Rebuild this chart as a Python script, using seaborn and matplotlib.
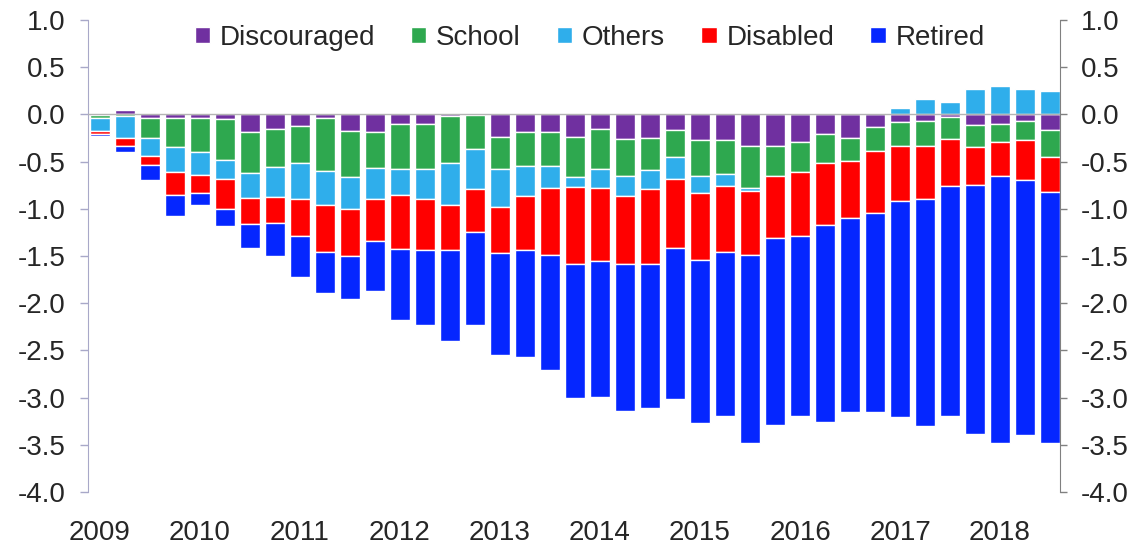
import numpy as np
import matplotlib.pyplot as plt
from matplotlib.patches import Patch
import seaborn as sns

# quarterly contributions, 2009Q1 .. 2018Q3
years = [str(y) for y in range(2009, 2019)]
quarters = [f"{y}Q{q}" for y in years for q in range(1, 5)][:39]

discouraged = [-0.01, 0.05, -0.035, -0.04, -0.04, -0.05, -0.19, -0.15, -0.12, -0.035,
               -0.18, -0.19, -0.10, -0.10, -0.02, -0.01, -0.24, -0.19, -0.19, -0.24,
               -0.15, -0.26, -0.245, -0.17, -0.27, -0.27, -0.33, -0.33, -0.29, -0.21,
               -0.25, -0.13, -0.08, -0.065, -0.025, -0.11, -0.10, -0.065, -0.16]
school = [-0.03, -0.02, -0.21, -0.31, -0.36, -0.43, -0.43, -0.41, -0.39, -0.56,
          -0.48, -0.38, -0.48, -0.48, -0.49, -0.36, -0.335, -0.36, -0.36, -0.42,
          -0.43, -0.39, -0.345, -0.28, -0.38, -0.36, -0.45, -0.32, -0.32, -0.31,
          -0.24, -0.26, -0.25, -0.265, -0.235, -0.24, -0.19, -0.205, -0.29]
others = [-0.14, -0.23, -0.20, -0.26, -0.24, -0.20, -0.27, -0.31, -0.39, -0.37,
          -0.34, -0.33, -0.27, -0.32, -0.45, -0.42, -0.41, -0.31, -0.23, -0.11,
          -0.20, -0.21, -0.20, -0.23, -0.18, -0.13, -0.03, 0.02, 0.005, 0.02,
          0.0, 0.02, 0.07, 0.16, 0.13, 0.27, 0.30, 0.27, 0.25]
disabled = [-0.03, -0.09, -0.09, -0.24, -0.19, -0.32, -0.27, -0.28, -0.39, -0.49,
            -0.50, -0.44, -0.58, -0.54, -0.48, -0.46, -0.48, -0.58, -0.71, -0.81,
            -0.77, -0.73, -0.80, -0.74, -0.71, -0.70, -0.68, -0.66, -0.68, -0.65,
            -0.61, -0.65, -0.59, -0.57, -0.50, -0.40, -0.36, -0.42, -0.37]
retired = [-0.02, -0.06, -0.16, -0.23, -0.13, -0.18, -0.25, -0.35, -0.43, -0.435,
           -0.46, -0.53, -0.75, -0.79, -0.96, -0.98, -1.085, -1.13, -1.22, -1.42,
           -1.44, -1.55, -1.52, -1.60, -1.73, -1.73, -1.99, -1.98, -1.90, -2.09,
           -2.05, -2.11, -2.29, -2.40, -2.43, -2.64, -2.83, -2.71, -2.66]

series = [("Discouraged", discouraged, "#7030A0"),
          ("School", school, "#2EA84F"),
          ("Others", others, "#2FAEEB"),
          ("Disabled", disabled, "#FF0000"),
          ("Retired", retired, "#0526FF")]

sns.set_style("white")
plt.rcParams["font.family"] = ["Liberation Sans", "DejaVu Sans"]
plt.rcParams["axes.unicode_minus"] = False
txt = "#262626"

fig = plt.figure(figsize=(11.44, 5.48), dpi=100)
ax = fig.add_axes([0.0769, 0.1022, 0.8497, 0.8613])

# stack: negatives downward from zero, positives upward
pos_base = np.zeros(len(quarters))
neg_base = np.zeros(len(quarters))
for name, vals, col in series:
    v = np.array(vals)
    bottom = np.where(v >= 0, pos_base, neg_base)
    sns.barplot(x=quarters, y=v, bottom=bottom, color=col, saturation=1,
                width=0.78, errorbar=None, ax=ax)
    pos_base += np.clip(v, 0, None)
    neg_base += np.clip(v, None, 0)

ax.axhline(0, color="#b4b4b4", lw=1, zorder=3)
ax.set_xlim(-0.48, 38.4)
ax.set_ylim(-4, 1)
ticks = np.arange(-4, 1.01, 0.5)
ax.set_yticks(ticks)
ax.set_yticklabels([f"{t:.1f}" for t in ticks])
ax.set_xticks(range(0, 39, 4))
ax.set_xticklabels(years)
ax.set_xlabel("")
ax.set_ylabel("")
ax.tick_params(axis="x", length=0, pad=20, labelsize=20, labelcolor=txt)
ax.tick_params(axis="y", direction="out", length=6, width=1, color="#a8a8c8",
               pad=10, labelsize=20, labelcolor=txt)
for s in ["top", "right", "bottom"]:
    ax.spines[s].set_visible(False)
ax.spines["left"].set_color("#a8a8c8")

ax2 = ax.twinx()
ax2.set_ylim(-4, 1)
ax2.set_yticks(ticks)
ax2.set_yticklabels([f"{t:.1f}" for t in ticks])
ax2.tick_params(axis="y", direction="out", length=5, width=1, color="#808080",
                pad=10, labelsize=20, labelcolor=txt)
for s in ["top", "left", "bottom"]:
    ax2.spines[s].set_visible(False)
ax2.spines["right"].set_color("#808080")

handles = [Patch(facecolor=col, label=name) for name, _, col in series]
ax2.legend(handles=handles, loc="center", bbox_to_anchor=(0.516, 0.962), ncol=5,
           frameon=False, fontsize=20, handlelength=0.55, handleheight=0.55,
           handletextpad=0.35, columnspacing=1.3, labelcolor=txt)

fig.savefig("out.png", dpi=100)
